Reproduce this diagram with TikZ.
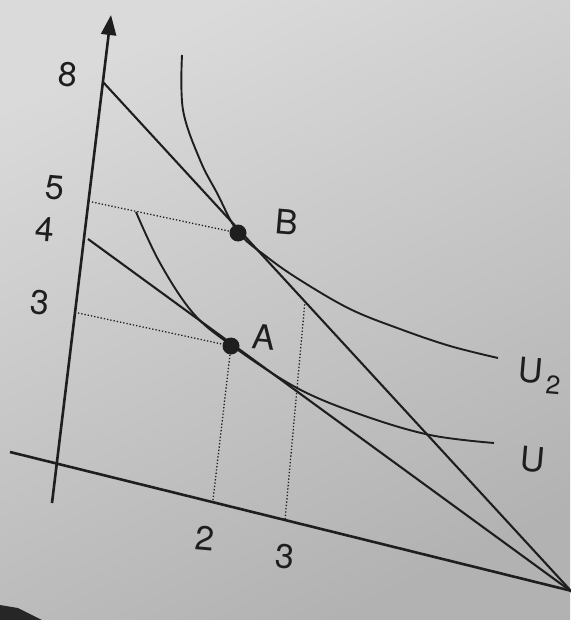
\documentclass[tikz,border=0pt]{standalone}
\usepackage{fontspec}
\setmainfont{TeX Gyre Heros}
\usetikzlibrary{arrows.meta}
\definecolor{paperTop}{HTML}{DADADA}
\definecolor{paperMid}{HTML}{D0D0D0}
\definecolor{paperBot}{HTML}{B2B2B2}
\definecolor{ink}{HTML}{1E1E1E}
\tikzset{
  axisline/.style={ink, line width=2.6pt},
  budget/.style={ink, line width=2.1pt},
  icurve/.style={ink, line width=1.9pt},
  guide/.style={ink, line width=1.3pt, dotted},
  lbl/.style={font=\fontsize{34}{40}\selectfont, text=ink, inner sep=0pt, rotate=-5},
  sublbl/.style={font=\fontsize{26}{30}\selectfont, text=ink, inner sep=0pt, rotate=-5},
  dotpt/.style={circle, fill=ink, minimum size=17pt, inner sep=0pt}
}
\begin{document}
\begin{tikzpicture}[x=1pt, y=-1pt]
\useasboundingbox (0,0) rectangle (570,620);
\shade[top color=paperTop, middle color=paperMid, bottom color=paperBot, shading angle=25] (0,0) rectangle (570,620);
\fill[black!85] (0,605) -- (18,608) -- (42,620) -- (0,620) -- cycle;

% key points
\coordinate (Ybot) at (52,503);
\coordinate (Ytop) at (111,15);
\coordinate (Xl) at (10,452);
\coordinate (Xr) at (572,591);
\coordinate (Y8) at (103,82);
\coordinate (Y4) at (88,239);
\coordinate (Y5) at (92,202);
\coordinate (Y3) at (78,313);
\coordinate (X2) at (213,500);
\coordinate (X3) at (285,520);
\coordinate (P3) at (305,301);
\coordinate (Far) at (572,592);

% axes
\draw[axisline, -{Triangle[length=20pt,width=15pt]}] (Ybot) -- (Ytop);
\draw[axisline] (Xl) -- (Xr);

% budget lines
\draw[budget] (Y8) -- (Far);
\draw[budget] (Y4) -- (Far);

% indifference curves
\draw[icurve] plot[smooth, tension=0.6] coordinates {(182,55) (183,110) (200,160) (217,193) (238,232) (267,257) (300,280) (350,309) (400,329) (450,346) (498,358)};
\draw[icurve] plot[smooth, tension=0.6] coordinates {(136,212) (160,263) (193,313) (231,345) (297,388) (362,415) (430,435) (494,443)};

% points
\node[dotpt] (B) at (238,233) {};
\node[dotpt] (A) at (231,346) {};

% guide lines
\draw[guide] (Y5) -- (B);
\draw[guide] (Y3) -- (A);
\draw[guide] (A) -- (X2);
\draw[guide] (P3) -- (X3);

% labels
\node[lbl] (l8) at (68,75) {8};
\node[lbl] (l5) at (55,188) {5};
\node[lbl] (l4) at (45,229) {4};
\node[lbl] (l3y) at (40,303) {3};
\node[lbl] (lB) at (287,222) {B};
\node[lbl] (lA) at (264,337) {A};
\node[lbl] (lU2) at (531,371) {U};
\node[sublbl] (lU2s) at (553,385) {2};
\node[lbl] (lU) at (533,460) {U};
\node[lbl] (l2x) at (205,538) {2};
\node[lbl] (l3x) at (285,557) {3};
\end{tikzpicture}
\end{document}
